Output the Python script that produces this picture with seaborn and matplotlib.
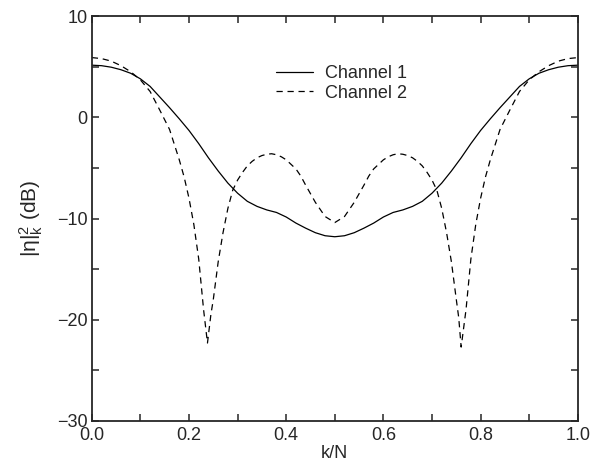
import matplotlib
matplotlib.use("Agg")
import matplotlib.pyplot as plt
from matplotlib.ticker import MultipleLocator, FormatStrFormatter
import pandas as pd
import seaborn as sns

# k/N grid and |eta_k|^2 in dB for the two channels
k_over_n_1 = [0.00, 0.02, 0.04, 0.06, 0.08, 0.10, 0.12, 0.14, 0.16, 0.18,
              0.20, 0.22, 0.24, 0.26, 0.28, 0.30, 0.32, 0.34, 0.36, 0.38,
              0.40, 0.42, 0.44, 0.46, 0.48, 0.50, 0.52, 0.54, 0.56, 0.58,
              0.60, 0.62, 0.64, 0.66, 0.68, 0.70, 0.72, 0.74, 0.76, 0.78,
              0.80, 0.82, 0.84, 0.86, 0.88, 0.90, 0.92, 0.94, 0.96, 0.98, 1.00]
channel_1 = [5.15, 5.10, 4.95, 4.70, 4.35, 3.80, 3.05, 2.00, 0.95, -0.15,
             -1.30, -2.60, -4.00, -5.30, -6.50, -7.50, -8.30, -8.80, -9.15, -9.40,
             -9.85, -10.45, -10.95, -11.40, -11.70, -11.80, -11.70, -11.40, -10.95, -10.45,
             -9.85, -9.40, -9.15, -8.80, -8.30, -7.50, -6.50, -5.30, -4.00, -2.60,
             -1.30, -0.15, 0.95, 2.00, 3.05, 3.80, 4.35, 4.70, 4.95, 5.10, 5.15]

k_over_n_2 = [0.00, 0.02, 0.04, 0.06, 0.08, 0.10, 0.12, 0.14, 0.16, 0.18,
              0.19, 0.20, 0.21, 0.22, 0.23, 0.238, 0.245, 0.25, 0.26, 0.27,
              0.28, 0.29, 0.30, 0.31, 0.32, 0.33, 0.34, 0.35, 0.36, 0.37,
              0.38, 0.39, 0.40, 0.42, 0.43, 0.44, 0.46, 0.48, 0.50, 0.52,
              0.54, 0.56, 0.57, 0.58, 0.60, 0.61, 0.62, 0.63, 0.64, 0.65,
              0.66, 0.67, 0.68, 0.69, 0.70, 0.71, 0.72, 0.73, 0.74, 0.75,
              0.755, 0.760, 0.77, 0.78, 0.79, 0.80, 0.81, 0.82, 0.84, 0.86,
              0.88, 0.90, 0.92, 0.94, 0.96, 0.98, 1.00]
channel_2 = [5.90, 5.80, 5.55, 5.10, 4.50, 3.70, 2.55, 0.70, -1.20, -4.20,
             -5.90, -8.00, -10.60, -14.00, -19.00, -22.30, -19.50, -18.00, -14.30, -11.40,
             -9.00, -7.20, -6.20, -5.45, -4.80, -4.35, -4.00, -3.78, -3.65, -3.60,
             -3.70, -3.90, -4.20, -5.10, -5.80, -6.70, -8.40, -9.80, -10.40, -9.80,
             -8.40, -6.70, -5.80, -5.10, -4.20, -3.90, -3.70, -3.60, -3.65, -3.78,
             -4.00, -4.35, -4.80, -5.45, -6.20, -7.20, -9.00, -11.40, -14.30, -18.00,
             -19.80, -22.70, -19.00, -14.00, -10.60, -8.00, -5.90, -4.20, -1.20, 0.70,
             2.55, 3.70, 4.50, 5.10, 5.55, 5.80, 5.90]

labels = ["Channel 1", "Channel 2"]

df = pd.concat([
    pd.DataFrame({"k/N": k_over_n_1, "dB": channel_1, "Channel": labels[0]}),
    pd.DataFrame({"k/N": k_over_n_2, "dB": channel_2, "Channel": labels[1]}),
])

sns.set_style("ticks")
plt.rcParams["font.family"] = ["Liberation Sans", "DejaVu Sans"]
plt.rcParams["mathtext.fontset"] = "custom"
plt.rcParams["mathtext.rm"] = "Liberation Sans"
plt.rcParams["mathtext.it"] = "Liberation Sans"

fig = plt.figure(figsize=(6.0, 4.73), dpi=100)
ax = fig.add_axes([0.153, 0.110, 0.810, 0.856])

sns.lineplot(data=df, x="k/N", y="dB", hue="Channel", style="Channel",
             palette={labels[0]: "black", labels[1]: "black"},
             dashes={labels[0]: "", labels[1]: (5, 3.8)},
             linewidth=0.9, sort=False, estimator=None, ax=ax)

ax.set_xlim(0, 1)
ax.set_ylim(-30, 10)
ax.xaxis.set_major_locator(MultipleLocator(0.2))
ax.xaxis.set_minor_locator(MultipleLocator(0.1))
ax.yaxis.set_major_locator(MultipleLocator(10))
ax.yaxis.set_minor_locator(MultipleLocator(5))
ax.xaxis.set_major_formatter(FormatStrFormatter("%.1f"))
ax.tick_params(which="both", direction="in", top=True, right=True,
               length=5, width=1.1, labelsize=13)
ax.tick_params(axis="x", pad=4)
ax.tick_params(axis="y", pad=3)
for side in ax.spines.values():
    side.set_linewidth(1.3)
    side.set_visible(True)

ax.set_xlabel("k/N", fontsize=13, labelpad=1)
ax.set_ylabel(r"$|\eta|_k^2$ (dB)", fontsize=15, labelpad=9)

leg = ax.legend(loc="upper left", bbox_to_anchor=(0.365, 0.897), frameon=False,
                fontsize=13, handlelength=2.0, handletextpad=0.7,
                labelspacing=0.15, borderaxespad=0)
for line in leg.get_lines():
    line.set_linewidth(0.9)

fig.savefig("out.png", dpi=100)
